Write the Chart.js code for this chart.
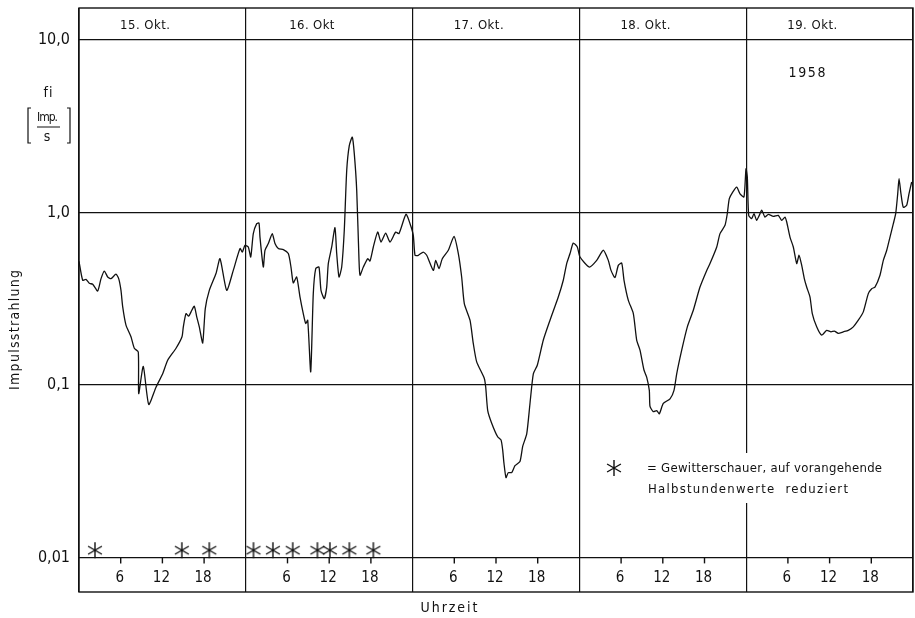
<!DOCTYPE html>
<html>
<head>
<meta charset="utf-8">
<script src="https://cdn.jsdelivr.net/npm/chart.js@4.4.1/dist/chart.umd.min.js"></script>
<style>
  html, body { margin: 0; padding: 0; background: #fff; }
</style>
</head>
<body>
<canvas id="grafik" width="915" height="618"></canvas>
<script>
// Tage und Achsenbeschriftung
const tage = ['15. Okt.', '16. Okt', '17. Okt.', '18. Okt.', '19. Okt.'];
const stundenMarken = [6, 12, 18];
const yTicks = [0.01, 0.1, 1, 10];
const yTickTexte = ['0,01', '0,1', '1,0', '10,0'];

// Impulsstrahlung fi [Imp./s], Zeit in Stunden ab 15. Okt. 0 Uhr
const stunden = [
  0, 0.53, 1.0, 1.48, 1.97, 2.69, 3.17, 3.64, 4.13, 4.60,
  5.32, 5.71, 6.04, 6.29, 6.76, 7.48, 7.96, 8.53, 8.59, 9.25,
  10.03, 11.08, 12.04, 12.76, 13.96, 14.82, 15.01, 15.40, 15.78, 16.12,
  16.59, 16.94, 17.31, 17.80, 18.17, 18.75, 19.71, 20.29, 21.25, 22.20,
  23.17, 23.50, 23.88, 24.36, 24.71, 25.08, 25.57, 25.90, 26.04, 26.52,
  26.76, 27.24, 27.81, 28.20, 28.68, 29.40, 30.12, 30.50, 30.83, 31.32,
  31.80, 32.27, 32.62, 32.91, 33.34, 33.71, 34.06, 34.53, 34.82, 35.29,
  35.64, 35.87, 36.36, 36.83, 37.08, 37.41, 37.80, 38.17, 38.52, 38.89,
  39.32, 39.61, 39.96, 40.29, 40.43, 40.91, 41.54, 41.87, 42.35, 42.98,
  43.45, 44.13, 44.75, 45.57, 46.04, 47.05, 47.63, 48.10, 48.35, 48.82,
  49.54, 50.03, 50.98, 51.32, 51.80, 52.27, 53.14, 53.96, 54.58, 55.06,
  55.44, 56.26, 56.73, 57.22, 58.32, 58.52, 58.81, 59.38, 60.24, 60.72,
  60.96, 61.15, 61.44, 61.77, 62.26, 62.73, 63.45, 63.84, 64.42, 64.89,
  65.37, 65.94, 66.81, 67.77, 68.96, 69.68, 70.17, 70.65, 71.12, 71.70,
  72.09, 73.43, 74.49, 75.44, 76.16, 76.55, 77.12, 77.60, 78.09, 78.42,
  79.04, 79.76, 80.24, 80.72, 81.29, 81.68, 82.06, 82.16, 82.63, 83.12,
  83.50, 84.07, 85.04, 85.61, 86.00, 86.72, 87.53, 88.39, 89.35, 90.32,
  90.79, 91.76, 92.23, 92.95, 93.28, 93.57, 94.06, 94.63, 95.11, 95.68,
  95.97, 96.16, 96.36, 96.79, 97.12, 97.50, 97.88, 98.23, 98.70, 99.18,
  99.90, 100.62, 101.11, 101.58, 101.83, 102.30, 102.78, 103.27, 103.60, 103.99,
  104.36, 104.70, 105.18, 105.51, 106.14, 106.86, 107.58, 108.20, 108.68, 109.25,
  109.97, 110.69, 111.41, 112.13, 112.85, 113.57, 114.06, 114.53, 115.25, 115.73,
  116.22, 116.69, 117.17, 117.51, 117.80, 117.99, 118.27, 118.60, 119.09, 119.42, 119.81
];
const impulse = [
  0.52, 0.404, 0.409, 0.388, 0.383, 0.350, 0.413, 0.457, 0.422, 0.413,
  0.438, 0.413, 0.353, 0.283, 0.222, 0.190, 0.163, 0.155, 0.089, 0.128,
  0.077, 0.097, 0.116, 0.139, 0.163, 0.190, 0.217, 0.259, 0.250, 0.265,
  0.286, 0.248, 0.217, 0.175, 0.277, 0.353, 0.442, 0.539, 0.353, 0.461,
  0.617, 0.589, 0.644, 0.630, 0.551, 0.753, 0.860, 0.867, 0.719, 0.482,
  0.603, 0.659, 0.753, 0.659, 0.617, 0.608, 0.577, 0.482, 0.390, 0.422,
  0.323, 0.259, 0.227, 0.237, 0.119, 0.338, 0.472, 0.482, 0.353, 0.316,
  0.369, 0.505, 0.630, 0.815, 0.577, 0.422, 0.482, 0.787, 1.75, 2.44,
  2.73, 2.19, 1.34, 0.527, 0.432, 0.482, 0.539, 0.522, 0.630, 0.769,
  0.673, 0.759, 0.673, 0.769, 0.753, 0.974, 0.860, 0.736, 0.564, 0.564,
  0.589, 0.564, 0.461, 0.527, 0.472, 0.539, 0.603, 0.726, 0.577, 0.422,
  0.296, 0.237, 0.174, 0.136, 0.109, 0.097, 0.071, 0.060, 0.050, 0.048,
  0.042, 0.035, 0.029, 0.031, 0.031, 0.034, 0.036, 0.044, 0.052, 0.078,
  0.116, 0.130, 0.182, 0.237, 0.323, 0.404, 0.505, 0.577, 0.664, 0.630,
  0.551, 0.482, 0.527, 0.603, 0.527, 0.461, 0.419, 0.493, 0.508, 0.404,
  0.309, 0.259, 0.182, 0.159, 0.122, 0.111, 0.093, 0.075, 0.070, 0.071,
  0.068, 0.078, 0.083, 0.093, 0.116, 0.159, 0.217, 0.271, 0.369, 0.461,
  0.505, 0.630, 0.753, 0.841, 0.983, 1.20, 1.31, 1.40, 1.28, 1.23,
  1.79, 1.60, 0.961, 0.919, 0.983, 0.899, 0.961, 1.03, 0.939, 0.974,
  0.948, 0.961, 0.899, 0.939, 0.879, 0.719, 0.630, 0.505, 0.564, 0.493,
  0.413, 0.369, 0.323, 0.259, 0.217, 0.194, 0.207, 0.203, 0.205, 0.199,
  0.203, 0.207, 0.217, 0.237, 0.265, 0.338, 0.361, 0.369, 0.432, 0.527,
  0.603, 0.719, 0.860, 0.983, 1.28, 1.57, 1.28, 1.07, 1.10, 1.28, 1.50
];

// Gewitterschauer (Sternchen)
const schauerStunden = [2.3, 14.8, 18.75, 25.1, 27.9, 30.75, 34.3, 36.1, 38.9, 42.35];
const schauerWerte = [0.011, 0.011, 0.011, 0.011, 0.011, 0.011, 0.011, 0.011, 0.011, 0.011];

const schrift = '"Liberation Sans Narrow", "DejaVu Sans Condensed", sans-serif';
const tinte = '#111';

// sechsarmiges Sternchen
function sternZeichnen(c, cx, cy, r) {
  c.beginPath();
  for (let k = 0; k < 3; k++) {
    const w = Math.PI / 2 + k * Math.PI / 3;
    c.moveTo(cx + r * Math.cos(w), cy - r * Math.sin(w));
    c.lineTo(cx - r * Math.cos(w), cy + r * Math.sin(w));
  }
  c.stroke();
}
const stern = document.createElement('canvas');
stern.width = 18; stern.height = 18;
const sc = stern.getContext('2d');
sc.strokeStyle = tinte; sc.lineWidth = 1.4;
sternZeichnen(sc, 9, 9, 8);

// Text auf eine Zielbreite bringen (Sperrschrift wie im Original)
function schreibe(c, text, x, y, groesse, breite, ausr) {
  c.font = groesse + 'px ' + schrift;
  c.letterSpacing = '0px';
  let w = c.measureText(text).width;
  let abstand = 0;
  if (breite) {
    abstand = (breite - w) / Math.max(1, text.length - 1);
    if (abstand < -1) {
      groesse = groesse * (breite + text.length) / w;
      c.font = groesse.toFixed(1) + 'px ' + schrift;
      abstand = -1;
    }
  }
  c.letterSpacing = abstand.toFixed(2) + 'px';
  c.textAlign = 'left';
  w = breite || w;
  const x0 = ausr === 'left' ? x : x - w / 2;
  c.fillText(text, x0, y);
}

const beschriftung = {
  id: 'beschriftung',
  afterDraw(chart) {
    const { ctx, chartArea: a, scales: { x, y } } = chart;
    ctx.save();
    ctx.strokeStyle = tinte;
    ctx.fillStyle = tinte;
    ctx.lineWidth = 1.4;
    ctx.strokeRect(a.left, a.top, a.right - a.left, a.bottom - a.top);

    const y001 = y.getPixelForValue(0.01);
    const y10 = y.getPixelForValue(10);
    ctx.textBaseline = 'middle';

    tage.forEach((tag, d) => {
      stundenMarken.forEach(h => {
        const px = x.getPixelForValue(d * 24 + h);
        ctx.beginPath();
        ctx.moveTo(px, y001);
        ctx.lineTo(px, y001 + 6);
        ctx.stroke();
        schreibe(ctx, String(h), px - 1, y001 + 21, 15, 0);
      });
      schreibe(ctx, tag, x.getPixelForValue(d * 24 + 9.5), (a.top + y10) / 2 + 2, 13, tag.length > 7 ? 50 : 45);
    });

    // Jahr
    schreibe(ctx, '1958', 807, 73, 14, 37);

    // Achsentitel
    schreibe(ctx, 'Uhrzeit', 449, 608, 14, 57);
    ctx.save();
    ctx.translate(15, 330);
    ctx.rotate(-Math.PI / 2);
    schreibe(ctx, 'Impulsstrahlung', 0, 0, 14, 120);
    ctx.restore();

    // Einheit fi [Imp./s]
    schreibe(ctx, 'fi', 48, 93, 14, 9);
    schreibe(ctx, 'Imp.', 47, 118, 13, 20);
    schreibe(ctx, 's', 47, 137, 14, 0);
    ctx.lineWidth = 1.2;
    ctx.beginPath();
    ctx.moveTo(37, 127); ctx.lineTo(60, 127);
    ctx.moveTo(31, 108); ctx.lineTo(28, 108); ctx.lineTo(28, 143); ctx.lineTo(31, 143);
    ctx.moveTo(67, 108); ctx.lineTo(70, 108); ctx.lineTo(70, 143); ctx.lineTo(67, 143);
    ctx.stroke();

    // Legende
    ctx.fillStyle = '#fff';
    ctx.fillRect(604, 453, 290, 50);
    ctx.fillStyle = tinte;
    ctx.lineWidth = 1.4;
    sternZeichnen(ctx, 614, 468, 8);
    schreibe(ctx, '= Gewitterschauer, auf vorangehende', 647, 469, 13, 235, 'left');
    schreibe(ctx, 'Halbstundenwerte  reduziert', 648, 490, 13, 200, 'left');
    ctx.restore();
  }
};

function ohnePolster(s) {
  s.paddingTop = 0; s.paddingBottom = 0; s.paddingLeft = 0; s.paddingRight = 0;
}

new Chart(document.getElementById('grafik'), {
  type: 'line',
  data: {
    datasets: [
      {
        data: stunden.map((h, i) => ({ x: h, y: impulse[i] })),
        borderColor: tinte,
        borderWidth: 1.3,
        pointRadius: 0,
        tension: 0.2,
        fill: false
      },
      {
        type: 'scatter',
        data: schauerStunden.map((h, i) => ({ x: h, y: schauerWerte[i] })),
        pointStyle: stern,
        pointRadius: 9,
        showLine: false
      }
    ]
  },
  options: {
    responsive: false,
    animation: false,
    devicePixelRatio: 1,
    layout: { autoPadding: false, padding: { top: 8, right: 2, bottom: 26, left: 0 } },
    plugins: { legend: { display: false }, tooltip: { enabled: false } },
    scales: {
      x: {
        type: 'linear',
        min: 0,
        max: 120,
        ticks: { display: false, stepSize: 24 },
        grid: { color: tinte, lineWidth: 1.2, drawTicks: false },
        border: { display: false },
        afterFit(s) { s.height = 0; ohnePolster(s); }
      },
      y: {
        type: 'logarithmic',
        min: 0.0063,
        max: 15.3,
        afterBuildTicks(s) { s.ticks = yTicks.map(v => ({ value: v })); },
        ticks: {
          callback: (v, i) => yTickTexte[i],
          color: tinte,
          padding: 9,
          font: { family: schrift, size: 16 }
        },
        grid: { color: tinte, lineWidth: 1.2, drawTicks: false },
        border: { display: false },
        afterFit(s) { s.width = 79; ohnePolster(s); }
      }
    }
  },
  plugins: [beschriftung]
});
</script>
</body>
</html>
